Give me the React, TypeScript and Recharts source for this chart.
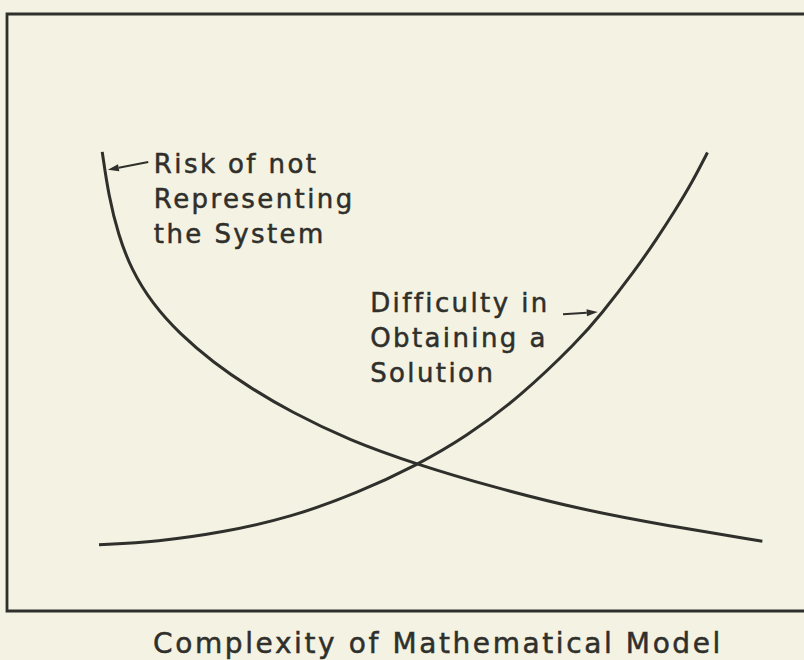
import {
  ComposedChart, Line, XAxis, YAxis, ReferenceArea, ReferenceDot, ReferenceLine, Label,
} from "recharts";

// complexity (0-100) vs. relative level (0-100)
const RISK_X = [11.8, 12.6, 13.8, 15.4, 18.0, 21.4, 25.6, 30.0, 35.1, 42.4, 50.9, 60.1, 71.1, 82.2, 93.6];
const RISK_Y = [76.9, 69.5, 63.0, 57.2, 51.5, 46.4, 41.6, 37.5, 33.4, 28.6, 24.5, 20.8, 17.0, 14.2, 11.7];

const DIFF_X = [11.4, 18.6, 26.9, 35.2, 43.5, 50.9, 56.8, 63.6, 70.8, 73.5, 77.8, 80.5, 82.8, 84.9, 86.8];
const DIFF_Y = [11.1, 11.6, 13.2, 15.7, 19.8, 24.5, 29.1, 35.9, 45.3, 49.5, 57.0, 62.3, 67.1, 71.8, 76.8];

const RISK_LABEL = ["Risk of not", "Representing", "the System"];
const DIFF_LABEL = ["Difficulty in", "Obtaining a", "Solution"];
const X_TITLE = "Complexity of Mathematical Model";

const risk = RISK_X.map((x, i) => ({ x, y: RISK_Y[i] }));
const diff = DIFF_X.map((x, i) => ({ x, y: DIFF_Y[i] }));

const INK = "#2f2f2b";
const FONT = "'DejaVu Sans', sans-serif";

/* Multi-line note anchored at its first baseline. */
function note(lines: string[]) {
  return (p: any) => (
    <text
      x={p.cx} y={p.cy} fill={INK} stroke={INK} strokeWidth={0.5}
      fontFamily={FONT} fontSize={26} letterSpacing={2.4}
    >
      {lines.map((s, i) => (
        <tspan key={s} x={p.cx} dy={i === 0 ? 0 : 35}>{s}</tspan>
      ))}
    </text>
  );
}

/* Leader line with a small filled head at the second point. */
function Arrow(p: any) {
  const { x1, y1, x2, y2 } = p;
  const a = Math.atan2(y2 - y1, x2 - x1);
  const L = 11, W = 3.5;
  const bx = x2 - L * Math.cos(a), by = y2 - L * Math.sin(a);
  const nx = -Math.sin(a) * W, ny = Math.cos(a) * W;
  return (
    <g>
      <line x1={x1} y1={y1} x2={bx} y2={by} stroke={INK} strokeWidth={2} />
      <polygon points={`${x2},${y2} ${bx + nx},${by + ny} ${bx - nx},${by - ny}`} fill={INK} />
    </g>
  );
}

function XTitle({ viewBox }: any) {
  return (
    <text
      x={viewBox.x + 431} y={viewBox.y + 42} textAnchor="middle"
      fill={INK} stroke={INK} strokeWidth={0.5}
      fontFamily={FONT} fontSize={28} letterSpacing={2.6}
    >
      {X_TITLE}
    </text>
  );
}

export default function App() {
  return (
    <div style={{ position: "absolute", left: 0, top: 0, width: 804, height: 660, overflow: "hidden", background: "#f4f2e2" }}>
      <ComposedChart width={820} height={660} margin={{ top: 14, right: 6, bottom: 0, left: 7 }}>
        <XAxis
          type="number" dataKey="x" domain={[0, 100]} height={49}
          tick={false} tickLine={false} axisLine={false}
          label={<Label content={XTitle} />}
        />
        <YAxis type="number" domain={[0, 100]} hide />
        <ReferenceArea x1={0} x2={100} y1={0} y2={100} fill="none" stroke={INK} strokeWidth={2.8} fillOpacity={0} />
        <Line data={risk} dataKey="y" type="basis" stroke={INK} strokeWidth={3} dot={false} isAnimationActive={false} />
        <Line data={diff} dataKey="y" type="basis" stroke={INK} strokeWidth={3} dot={false} isAnimationActive={false} />
        <ReferenceLine segment={[{ x: 17.5, y: 75.2 }, { x: 12.5, y: 73.9 }]} shape={Arrow} />
        <ReferenceLine segment={[{ x: 68.9, y: 49.7 }, { x: 73.2, y: 50.1 }]} shape={Arrow} />
        <ReferenceDot x={18.2} y={73.4} r={0} shape={note(RISK_LABEL)} />
        <ReferenceDot x={45.0} y={50.1} r={0} shape={note(DIFF_LABEL)} />
      </ComposedChart>
    </div>
  );
}
